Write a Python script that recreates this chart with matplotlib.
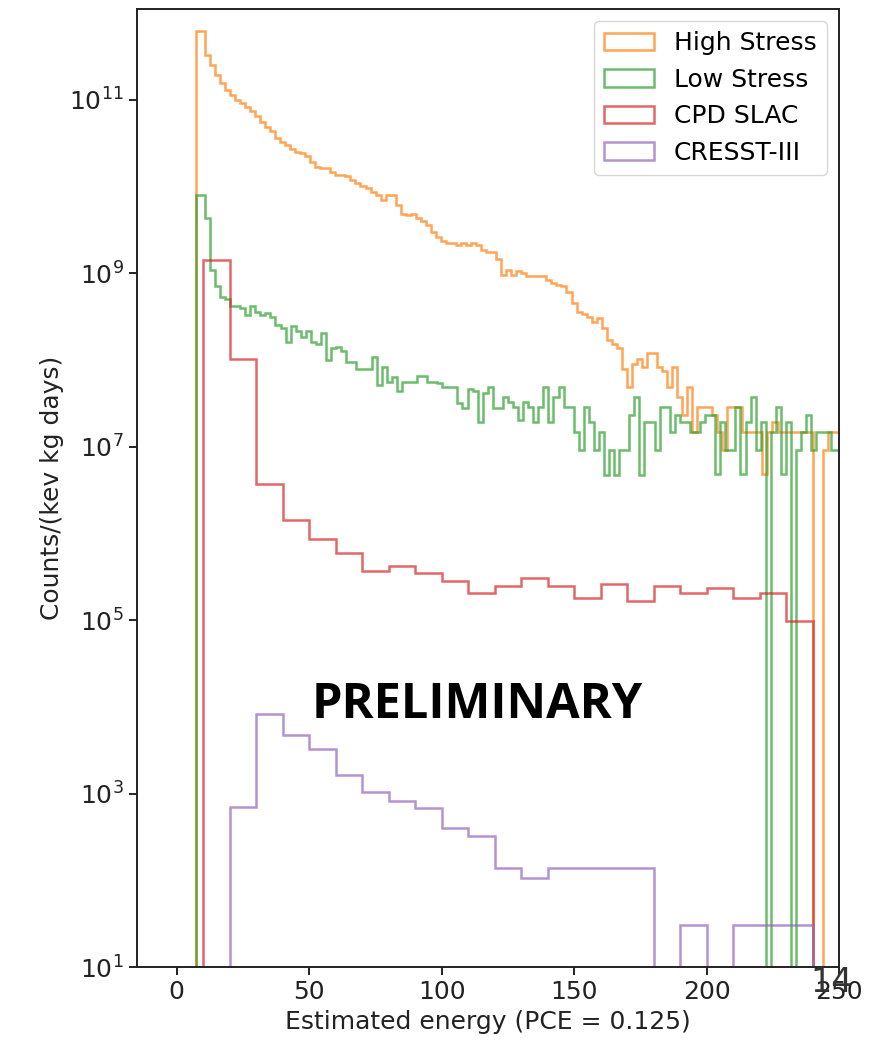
import matplotlib
matplotlib.use('Agg')
import matplotlib.pyplot as plt
import numpy as np

# empty bins (zero counts) are written as EMPTY in the log10 lists
EMPTY = -np.inf

labels = ['High Stress', 'Low Stress', 'CPD SLAC', 'CRESST-III']
colors = ['tab:orange', 'tab:green', 'tab:red', 'tab:purple']

# bin edges (estimated energy)
high_edges = np.r_[7.4, 10.56 + 1.8967 * np.arange(128)]
low_edges = np.r_[7.4, 10.56 + 1.908 * np.arange(127)]
cpd_edges = np.arange(10, 251, 10)
cresst_edges = np.arange(20, 241, 10)

# log10 of counts/(keV kg days)
high_log = [
    11.79, 11.52, 11.40, 11.29, 11.19, 11.12, 11.06, 11.00, 10.96, 10.92,
    10.87, 10.81, 10.75, 10.69, 10.64, 10.56, 10.52, 10.48, 10.43, 10.40,
    10.39, 10.35, 10.29, 10.23, 10.21, 10.21, 10.17, 10.13, 10.13, 10.12,
    10.08, 10.04, 10.01, 9.98, 9.94, 9.90, 9.85, 9.90, 9.90, 9.79,
    9.69, 9.67, 9.69, 9.64, 9.60, 9.56, 9.48, 9.42, 9.37, 9.35,
    9.35, 9.33, 9.35, 9.33, 9.35, 9.33, 9.27, 9.25, 9.25, 9.17,
    8.98, 9.04, 8.98, 9.03, 9.00, 8.97, 8.97, 8.97, 8.97, 8.92,
    8.89, 8.87, 8.85, 8.79, 8.66, 8.56, 8.53, 8.50, 8.44, 8.48,
    8.37, 8.23, 8.19, 8.14, 7.90, 7.69, 7.96, 8.01, 7.92, 8.08,
    8.08, 7.92, 7.87, 7.69, 7.92, 7.58, 7.37, 7.69, 7.17, 7.46,
    7.46, 7.46, 7.37, 7.17, 6.96, 7.46, 7.46, 7.46, 7.17, 7.17,
    7.17, 7.17, 6.69, 7.17, 7.29, 7.17, 7.17, 7.17, 7.17, 7.17,
    7.17, 7.17, EMPTY, EMPTY, 6.96, 7.17, 7.17, 7.17,
]
low_log = [
    9.90, 9.64, 9.04, 8.85, 8.73, 8.71, 8.62, 8.62, 8.60, 8.52,
    8.62, 8.56, 8.52, 8.54, 8.50, 8.40, 8.37, 8.21, 8.39, 8.33,
    8.27, 8.33, 8.21, 8.19, 8.31, 8.00, 8.14, 8.15, 8.10, 7.98,
    7.98, 7.90, 7.90, 7.90, 8.04, 7.71, 7.92, 7.75, 7.81, 7.64,
    7.75, 7.75, 7.75, 7.82, 7.82, 7.75, 7.75, 7.73, 7.69, 7.69,
    7.69, 7.51, 7.45, 7.67, 7.64, 7.29, 7.62, 7.69, 7.45, 7.45,
    7.58, 7.52, 7.46, 7.31, 7.52, 7.46, 7.29, 7.46, 7.69, 7.29,
    7.58, 7.69, 7.46, 7.46, 7.17, 6.96, 7.46, 7.29, 6.96, 7.17,
    6.67, 6.96, 6.67, 6.96, 6.96, 7.37, 7.58, 6.67, 7.29, 7.29,
    6.96, 7.46, 7.46, 7.17, 7.37, 7.29, 7.29, 7.17, 7.17, 7.29,
    7.37, 7.37, 6.69, 7.29, 6.96, 6.96, 7.46, 6.69, 7.29, 7.58,
    6.96, 7.29, EMPTY, 7.17, 7.46, 6.69, 7.29, EMPTY, 6.96, 7.17,
    7.37, 6.96, 7.17, 7.17, 7.17, 6.96, 6.96,
]
cpd_log = [
    9.15, 8.01, 6.57, 6.15, 5.94, 5.78, 5.57, 5.62, 5.54, 5.45,
    5.31, 5.40, 5.49, 5.40, 5.26, 5.42, 5.22, 5.40, 5.31, 5.37,
    5.26, 5.31, 4.99, EMPTY,
]
cresst_log = [
    2.85, 3.92, 3.68, 3.51, 3.22, 3.02, 2.92, 2.84, 2.60, 2.51,
    2.14, 2.03, 2.14, 2.14, 2.14, 2.14, EMPTY, 1.48, EMPTY, 1.48,
    1.48, 1.48,
]

plt.rcParams['font.size'] = 18

fig = plt.figure(figsize=(8.92, 10.45), dpi=100)
ax = fig.add_axes([0.1536, 0.0746, 0.787, 0.9168])

series = [
    (high_edges, high_log),
    (low_edges, low_log),
    (cpd_edges, cpd_log),
    (cresst_edges, cresst_log),
]
for (edges, logs), label, color in zip(series, labels, colors):
    counts = np.power(10.0, np.array(logs))
    centers = 0.5 * (edges[:-1] + edges[1:])
    ax.hist(centers, bins=edges, weights=counts, histtype='step',
            color=color, alpha=0.7, linewidth=1.8, log=True, label=label)

ax.set_xlim(-15, 250)
ax.set_ylim(10, 1.12e12)
ax.set_xticks([0, 50, 100, 150, 200, 250])
ax.set_yticks([1e1, 1e3, 1e5, 1e7, 1e9, 1e11])
ax.yaxis.set_minor_locator(matplotlib.ticker.NullLocator())
ax.tick_params(length=6, width=1.4, colors='#222222')
for sp in ax.spines.values():
    sp.set_linewidth(1.4)
    sp.set_color('#222222')

ax.set_xlabel('Estimated energy (PCE = 0.125)', color='#222222')
ax.set_ylabel('Counts/(kev kg days)', color='#222222')
ax.legend(loc='upper right')

fig.text(477.5 / 892, 1 - 718 / 1045, 'PRELIMINARY', fontsize=35,
         fontweight='bold', family=['Open Sans', 'DejaVu Sans'],
         ha='center', va='baseline')
fig.text(810 / 892, 1 - 992 / 1045, '14', fontsize=24, color='#333333',
         ha='left', va='baseline')

fig.savefig('out.png', dpi=100)
